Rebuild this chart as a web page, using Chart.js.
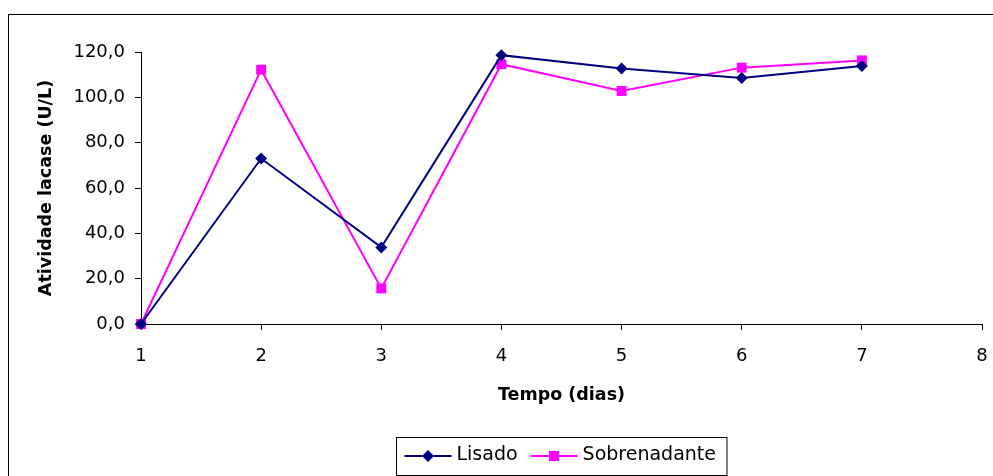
<!DOCTYPE html>
<html>
<head>
<meta charset="utf-8">
<script src="https://cdn.jsdelivr.net/npm/chart.js@4/dist/chart.umd.min.js"></script>
<style>
  html, body { margin: 0; padding: 0; background: #fff; }
  #chart { display: block; }
</style>
</head>
<body>
<canvas id="chart" width="993" height="476"></canvas>
<script>
// valores
const dias = [1, 2, 3, 4, 5, 6, 7];
const lisado = [0, 73.0, 33.8, 118.6, 112.7, 108.5, 113.8];
const sobrenadante = [0, 112.2, 15.7, 114.6, 102.8, 113.1, 116.3];
const xTicks = [1, 2, 3, 4, 5, 6, 7, 8];
const yTicks = [0, 20, 40, 60, 80, 100, 120];

const FONT = 'DejaVu Sans';

const toPoints = (vals) => dias.map((d, i) => ({ x: d, y: vals[i] }));

// moldura externa (direita e base ficam fora da imagem)
const frame = {
    id: 'frame',
    beforeDraw(chart) {
        const ctx = chart.ctx;
        ctx.save();
        ctx.fillStyle = '#fff';
        ctx.fillRect(0, 0, chart.width, chart.height);
        ctx.strokeStyle = '#000';
        ctx.lineWidth = 1;
        ctx.strokeRect(8.5, 14.5, 1200, 800);
        ctx.restore();
    }
};

// legenda com caixa, centrada na área do gráfico
const boxLegend = {
    id: 'boxLegend',
    afterDraw(chart) {
        const ctx = chart.ctx;
        const area = chart.chartArea;
        ctx.save();
        ctx.font = '19px "' + FONT + '"';
        ctx.textBaseline = 'middle';
        const lineLen = 47, padL = 8, padR = 11, gap = 5, between = 13;
        const items = chart.data.datasets.map(ds => ({ ds, w: ctx.measureText(ds.label).width }));
        let total = padL + padR;
        items.forEach((it, i) => { total += lineLen + gap + it.w + (i ? between : 0); });
        const boxTop = 437, boxH = 38;
        const left = Math.round((area.left + area.right) / 2 - total / 2) + 0.5;
        const cy = boxTop + boxH / 2;
        ctx.fillStyle = '#fff';
        ctx.fillRect(left, boxTop + 0.5, total, boxH);
        ctx.strokeStyle = '#000';
        ctx.lineWidth = 1;
        ctx.strokeRect(left, boxTop + 0.5, total, boxH);
        let x = left + padL;
        items.forEach((it, i) => {
            if (i) x += between;
            const ds = it.ds;
            ctx.strokeStyle = ds.borderColor;
            ctx.lineWidth = ds.borderWidth;
            ctx.beginPath();
            ctx.moveTo(x, cy);
            ctx.lineTo(x + lineLen, cy);
            ctx.stroke();
            Chart.helpers.drawPoint(ctx, {
                pointStyle: ds.pointStyle,
                radius: ds.pointRadius,
                borderWidth: 0,
                rotation: 0
            }, x + lineLen / 2, cy);
            ctx.fillStyle = ds.pointBackgroundColor;
            ctx.fill();
            x += lineLen + gap;
            ctx.fillStyle = '#000';
            ctx.fillText(ds.label, x, cy - 1);
            x += it.w;
        });
        ctx.restore();
    }
};

new Chart(document.getElementById('chart'), {
    type: 'line',
    data: {
        datasets: [
            {
                label: 'Lisado',
                data: toPoints(lisado),
                borderColor: '#000080',
                backgroundColor: '#000080',
                pointBackgroundColor: '#000080',
                pointBorderColor: '#000080',
                pointBorderWidth: 0,
                borderWidth: 2,
                pointStyle: 'rectRot',
                pointRadius: 6,
                tension: 0,
                clip: false
            },
            {
                label: 'Sobrenadante',
                data: toPoints(sobrenadante),
                borderColor: '#FF00FF',
                backgroundColor: '#FF00FF',
                pointBackgroundColor: '#FF00FF',
                pointBorderColor: '#FF00FF',
                pointBorderWidth: 0,
                borderWidth: 2,
                pointStyle: 'rect',
                pointRadius: 7,
                tension: 0,
                clip: false
            }
        ]
    },
    options: {
        responsive: false,
        animation: false,
        devicePixelRatio: 1,
        layout: { padding: { top: 52, right: 11, bottom: 70.5, left: 0 } },
        plugins: {
            legend: { display: false },
            tooltip: { enabled: false }
        },
        scales: {
            x: {
                type: 'linear',
                min: xTicks[0],
                max: xTicks[xTicks.length - 1],
                afterBuildTicks: (scale) => { scale.ticks = xTicks.map(v => ({ value: v })); },
                afterFit: (scale) => {
                    scale.height = 81.5;
                    scale.paddingLeft = 0;
                    scale.paddingRight = 0;
                },
                border: { display: true, color: '#000', width: 1 },
                grid: { drawOnChartArea: false, drawTicks: true, tickLength: 6, color: '#000' },
                ticks: {
                    color: '#000',
                    padding: 16,
                    font: { family: FONT, size: 18 },
                    maxRotation: 0,
                    callback: (v) => String(v)
                },
                title: {
                    display: true,
                    text: 'Tempo (dias)',
                    color: '#000',
                    padding: { top: 0, bottom: 0 },
                    font: { family: FONT, size: 17.5, weight: 'bold' }
                }
            },
            y: {
                min: yTicks[0],
                max: yTicks[yTicks.length - 1],
                afterBuildTicks: (scale) => { scale.ticks = yTicks.map(v => ({ value: v })); },
                afterFit: (scale) => { scale.width = 141; },
                border: { display: true, color: '#000', width: 1 },
                grid: { drawOnChartArea: false, drawTicks: true, tickLength: 6, color: '#000' },
                ticks: {
                    color: '#000',
                    padding: 10,
                    font: { family: FONT, size: 18 },
                    callback: (v) => v.toFixed(1).replace('.', ',')
                },
                title: {
                    display: true,
                    text: 'Atividade lacase (U/L)',
                    color: '#000',
                    padding: { top: 35.5, bottom: 0 },
                    font: { family: FONT, size: 17.5, weight: 'bold' }
                }
            }
        }
    },
    plugins: [frame, boxLegend]
});
</script>
</body>
</html>
